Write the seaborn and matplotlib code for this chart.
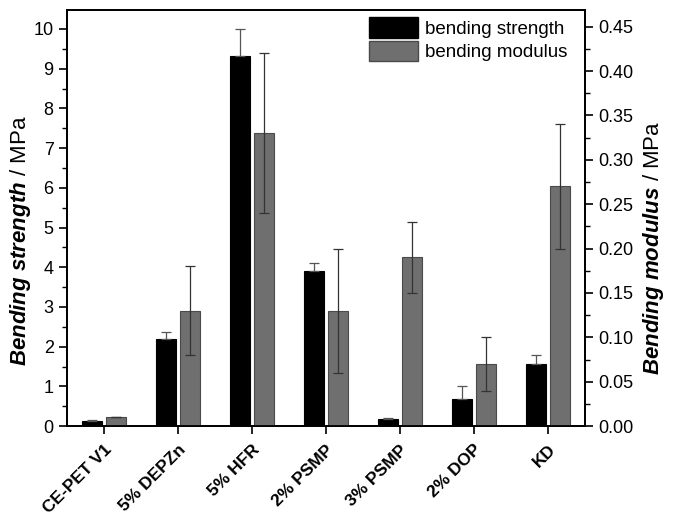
import numpy as np
import pandas as pd
import matplotlib
matplotlib.use("Agg")
import matplotlib.pyplot as plt
from matplotlib.ticker import MultipleLocator, FormatStrFormatter
from matplotlib.transforms import ScaledTranslation
from matplotlib.patches import Patch
import seaborn as sns

categories = ["CE-PET V1", "5% DEPZn", "5% HFR", "2% PSMP", "3% PSMP", "2% DOP", "KD"]
strength = [0.14, 2.2, 9.32, 3.9, 0.18, 0.67, 1.57]
strength_err = [0.02, 0.18, 0.67, 0.21, 0.03, 0.33, 0.22]
modulus = [0.010, 0.13, 0.33, 0.13, 0.19, 0.07, 0.27]
modulus_err = [0.0, 0.05, 0.09, 0.07, 0.04, 0.03, 0.07]
series = ["bending strength", "bending modulus"]

sns.set_theme(style="ticks")
plt.rcParams["font.family"] = ["Liberation Sans", "DejaVu Sans"]
plt.rcParams["text.color"] = "black"
plt.rcParams["axes.labelcolor"] = "black"
plt.rcParams["mathtext.fontset"] = "custom"
plt.rcParams["mathtext.rm"] = "Liberation Sans"
plt.rcParams["mathtext.it"] = "Liberation Sans:italic"
plt.rcParams["mathtext.bf"] = "Liberation Sans:bold"
plt.rcParams["mathtext.bfit"] = "Liberation Sans:italic:bold"

# long tables: each axis gets both hue levels, the other series left empty (NaN)
nan = [np.nan] * len(categories)
df_s = pd.DataFrame({"cat": categories * 2,
                     "value": list(strength) + nan,
                     "series": [series[0]] * len(categories) + [series[1]] * len(categories)})
df_m = pd.DataFrame({"cat": categories * 2,
                     "value": nan + list(modulus),
                     "series": [series[0]] * len(categories) + [series[1]] * len(categories)})

BLACK = "#000000"
GRAY = "#6f6f6f"
pal = {series[0]: BLACK, series[1]: GRAY}

fig = plt.figure(figsize=(6.76, 5.19), dpi=100)
ax = fig.add_axes([0.099, 0.179, 0.766, 0.802])
ax2 = ax.twinx()

sns.barplot(data=df_s, x="cat", y="value", hue="series", hue_order=series,
            order=categories, palette=pal, width=0.66, gap=0.18, errorbar=None,
            ax=ax, legend=False, edgecolor="#000000", linewidth=0.8, saturation=1)
sns.barplot(data=df_m, x="cat", y="value", hue="series", hue_order=series,
            order=categories, palette=pal, width=0.66, gap=0.18, errorbar=None,
            ax=ax2, legend=False, edgecolor="#4a4a4a", linewidth=0.8, saturation=1)

def centers(a):
    ps = [p for p in a.patches if np.isfinite(p.get_height()) and p.get_width() > 0]
    ps = sorted(ps, key=lambda p: p.get_x())
    return [p.get_x() + p.get_width() / 2 for p in ps]

xs = centers(ax)
xm = centers(ax2)
ax.errorbar(xs, strength, yerr=[[0] * len(strength), strength_err], fmt="none",
            ecolor="#555555", elinewidth=0.9, capsize=3.5, capthick=0.9, zorder=5)
ax2.errorbar(xm, modulus, yerr=modulus_err, fmt="none",
             ecolor="#333333", elinewidth=0.9, capsize=3.5, capthick=0.9, zorder=5)

ax.set_xlim(-0.5, 6.5)
ax.set_ylim(0, 10.48)
ax2.set_ylim(0, 0.469)

ax.yaxis.set_major_locator(MultipleLocator(1))
ax.yaxis.set_minor_locator(MultipleLocator(0.5))
ax2.yaxis.set_major_locator(MultipleLocator(0.05))
ax2.yaxis.set_minor_locator(MultipleLocator(0.025))
ax2.yaxis.set_major_formatter(FormatStrFormatter("%.2f"))

for a in (ax, ax2):
    for s in a.spines.values():
        s.set_linewidth(1.3)
        s.set_color("black")
    a.tick_params(which="major", direction="out", length=6, width=1.2, colors="black", labelsize=13)
    a.tick_params(which="minor", direction="out", length=3.5, width=1.0, colors="black")
ax.tick_params(axis="x", which="minor", bottom=False)
ax.tick_params(axis="x", pad=5.5)

ax.set_xticks(range(len(categories)))
ax.set_xticklabels(categories, rotation=45, ha="right", rotation_mode="anchor",
                   fontweight="bold", fontsize=12.5)
ax.set_xlabel("")
ax.set_ylabel(r"$\mathbfit{Bending\ strength}$ / MPa", fontsize=16, color="black")
ax2.set_ylabel(r"$\mathbfit{Bending\ modulus}$ / MPa", fontsize=16, color="black")
ax.yaxis.set_label_coords(-0.066, 0.445)
ax2.yaxis.set_label_coords(1.108, 0.428)

handles = [Patch(facecolor=BLACK, edgecolor="#000000"),
           Patch(facecolor=GRAY, edgecolor="#4a4a4a")]
ax2.legend(handles, series, loc="upper right", frameon=False, fontsize=13.5,
           handlelength=2.6, handleheight=1.3, handletextpad=0.35,
           borderaxespad=0.2, labelspacing=0.15, borderpad=0.2,
           bbox_to_anchor=(0.98, 1.0))

fig.savefig("out.png", dpi=100)
